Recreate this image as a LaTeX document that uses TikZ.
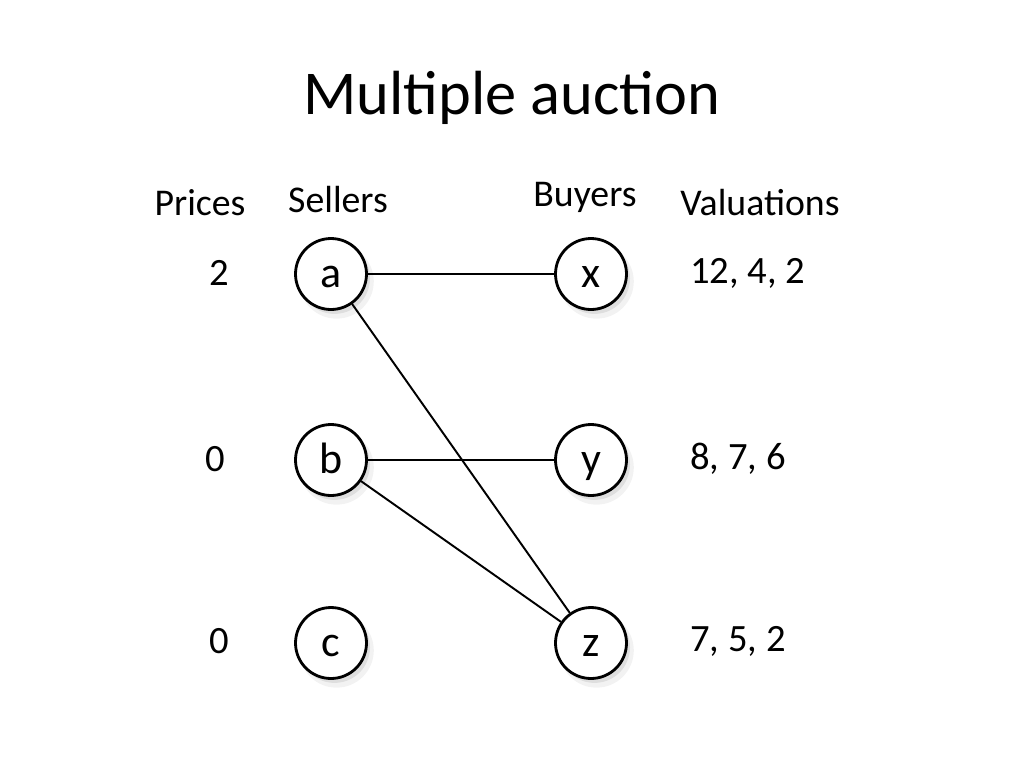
\documentclass[tikz,border=0pt]{standalone}
\usepackage{fontspec}
\setmainfont{Carlito}
\usetikzlibrary{shadows}

\begin{document}
\begin{tikzpicture}[x=0.02cm, y=-0.02cm,
    vertex/.style={draw, circle, fill=white, line width=1.6pt, minimum size=1.42cm, inner sep=0pt,
      font=\fontsize{25}{30}\selectfont, text height=15.5pt, text depth=0pt,
      drop shadow={opacity=0.10, shadow xshift=3pt, shadow yshift=-4pt, shadow scale=1.05},
      drop shadow={opacity=0.18, shadow xshift=2pt, shadow yshift=-2.5pt}},
    head/.style={font=\fontsize{21.5}{26}\selectfont},
    label/.style={font=\fontsize{22}{26}\selectfont},
    match/.style={line width=1.1pt}
]
    \useasboundingbox (0,0) rectangle (1024,768);

    % Title
    \node[font=\fontsize{35.5}{42}\selectfont] (title) at (512, 98) {Multiple auction};

    % Column heads
    \node[head] (prices) at (200, 203) {Prices};
    \node[head] (sellers) at (338, 200) {Sellers};
    \node[head] (buyers) at (585, 197) {Buyers};
    \node[head] (valuations) at (760, 203) {Valuations};

    % Sellers
    \node[vertex] (a) at (331, 274) {a};
    \node[vertex] (b) at (331, 460) {b};
    \node[vertex] (c) at (331, 643) {c};

    % Buyers
    \node[vertex] (x) at (591, 274) {x};
    \node[vertex] (y) at (591, 460) {y};
    \node[vertex] (z) at (591, 643) {z};

    % Prices
    \node[label] (pa) at (219, 273) {2};
    \node[label] (pb) at (215, 459) {0};
    \node[label] (pc) at (219, 641) {0};

    % Valuations
    \node[label, anchor=west] (vx) at (684, 273) {12, 4, 2};
    \node[label, anchor=west] (vy) at (684, 459) {8, 7, 6};
    \node[label, anchor=west] (vz) at (684, 641) {7, 5, 2};

    % Edges
    \draw[match] (a) -- (x);
    \draw[match] (a) -- (z);
    \draw[match] (b) -- (y);
    \draw[match] (b) -- (z);
\end{tikzpicture}
\end{document}
